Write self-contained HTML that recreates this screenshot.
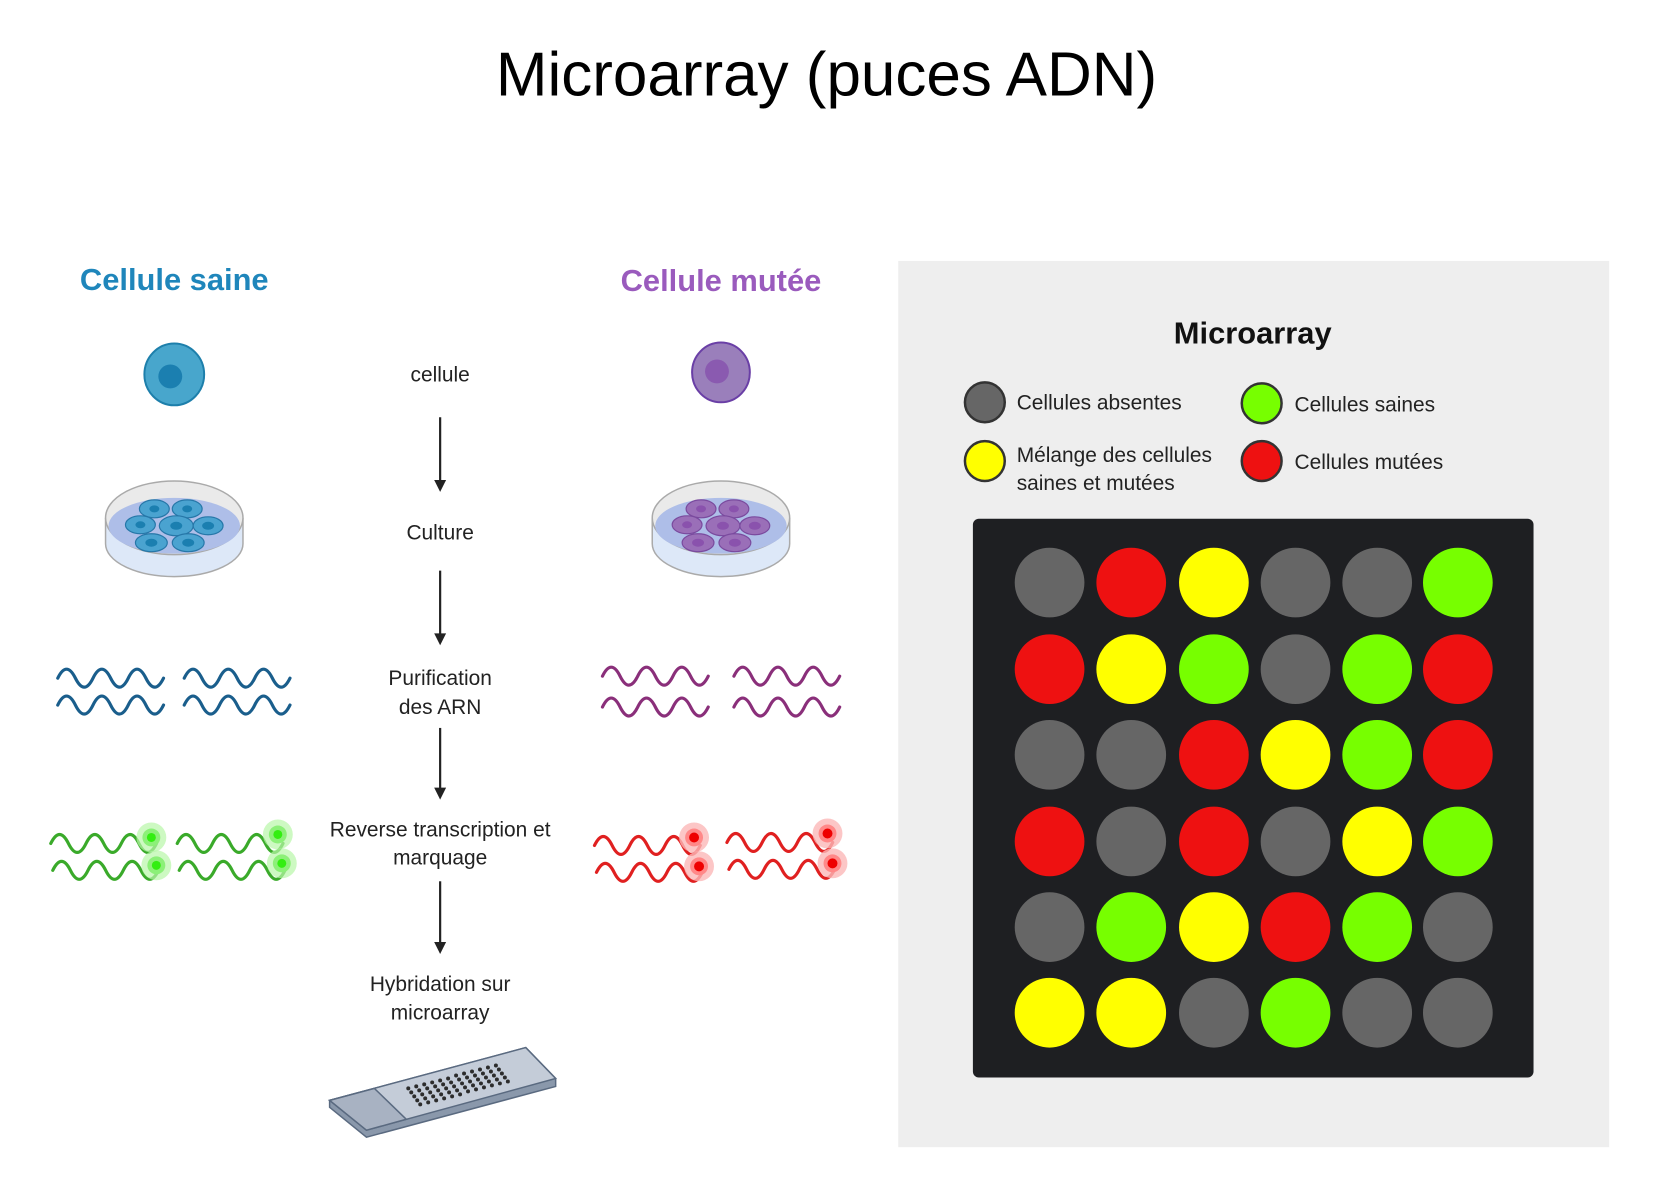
<!DOCTYPE html>
<html><head><meta charset="utf-8"><style>
html,body{margin:0;padding:0;background:#fff}
svg{display:block}
text{font-family:"Liberation Sans",sans-serif}
</style></head><body>
<svg width="1653" height="1181" viewBox="0 0 1653 1181" xmlns="http://www.w3.org/2000/svg">
<defs>
<g id="wave"><path d="M0,0 q8.8,-18 17.7,0 t17.7,0 t17.7,0 t17.7,0 t17.7,0 t17.7,0" fill="none" stroke-width="3.2" stroke-linecap="round"/></g>
</defs>
<g transform="scale(0.9958)">
<text x="830" y="96" font-size="62" text-anchor="middle" textLength="664" lengthAdjust="spacingAndGlyphs" fill="#000">Microarray (puces ADN)</text>

<rect x="902" y="262" width="714" height="890" fill="#eeeeee"/>
<text x="1258" y="345" font-size="31" font-weight="bold" text-anchor="middle" fill="#111">Microarray</text>
<circle cx="989" cy="404" r="20" fill="#666" stroke="#333" stroke-width="2.5"/>
<text x="1021" y="411" font-size="21" fill="#222">Cellules absentes</text>
<circle cx="1267" cy="405" r="20" fill="#77ff00" stroke="#333" stroke-width="2.5"/>
<text x="1300" y="413" font-size="21" fill="#222">Cellules saines</text>
<circle cx="989" cy="463" r="20" fill="#ffff00" stroke="#333" stroke-width="2.5"/>
<text x="1021" y="464" font-size="21" fill="#222">Mélange des cellules</text>
<text x="1021" y="492" font-size="21" fill="#222">saines et mutées</text>
<circle cx="1267" cy="463" r="20" fill="#ee1111" stroke="#333" stroke-width="2.5"/>
<text x="1300" y="471" font-size="21" fill="#222">Cellules mutées</text>
<rect x="977" y="521" width="563" height="561" rx="6" fill="#1e1f22"/>
<g>
<circle cx="1054" cy="585" r="35" fill="#666"/><circle cx="1136" cy="585" r="35" fill="#ee1111"/><circle cx="1219" cy="585" r="35" fill="#ffff00"/><circle cx="1301" cy="585" r="35" fill="#666"/><circle cx="1383" cy="585" r="35" fill="#666"/><circle cx="1464" cy="585" r="35" fill="#77ff00"/>
<circle cx="1054" cy="672" r="35" fill="#ee1111"/><circle cx="1136" cy="672" r="35" fill="#ffff00"/><circle cx="1219" cy="672" r="35" fill="#77ff00"/><circle cx="1301" cy="672" r="35" fill="#666"/><circle cx="1383" cy="672" r="35" fill="#77ff00"/><circle cx="1464" cy="672" r="35" fill="#ee1111"/>
<circle cx="1054" cy="758" r="35" fill="#666"/><circle cx="1136" cy="758" r="35" fill="#666"/><circle cx="1219" cy="758" r="35" fill="#ee1111"/><circle cx="1301" cy="758" r="35" fill="#ffff00"/><circle cx="1383" cy="758" r="35" fill="#77ff00"/><circle cx="1464" cy="758" r="35" fill="#ee1111"/>
<circle cx="1054" cy="845" r="35" fill="#ee1111"/><circle cx="1136" cy="845" r="35" fill="#666"/><circle cx="1219" cy="845" r="35" fill="#ee1111"/><circle cx="1301" cy="845" r="35" fill="#666"/><circle cx="1383" cy="845" r="35" fill="#ffff00"/><circle cx="1464" cy="845" r="35" fill="#77ff00"/>
<circle cx="1054" cy="931" r="35" fill="#666"/><circle cx="1136" cy="931" r="35" fill="#77ff00"/><circle cx="1219" cy="931" r="35" fill="#ffff00"/><circle cx="1301" cy="931" r="35" fill="#ee1111"/><circle cx="1383" cy="931" r="35" fill="#77ff00"/><circle cx="1464" cy="931" r="35" fill="#666"/>
<circle cx="1054" cy="1017" r="35" fill="#ffff00"/><circle cx="1136" cy="1017" r="35" fill="#ffff00"/><circle cx="1219" cy="1017" r="35" fill="#666"/><circle cx="1301" cy="1017" r="35" fill="#77ff00"/><circle cx="1383" cy="1017" r="35" fill="#666"/><circle cx="1464" cy="1017" r="35" fill="#666"/>
</g>

<text x="175" y="291" font-size="31" font-weight="bold" text-anchor="middle" fill="#1f86bb">Cellule saine</text>
<text x="724" y="292" font-size="31" font-weight="bold" text-anchor="middle" fill="#9a5bbd">Cellule mutée</text>

<g transform="translate(175,376)"><ellipse rx="30" ry="31" fill="#48a6cc" stroke="#1d7fab" stroke-width="2"/><ellipse cx="-4" cy="2" rx="12" ry="12" fill="#1b7fb0"/></g>
<g transform="translate(724,374)"><ellipse rx="29" ry="30" fill="#9a7fbb" stroke="#6a3fa6" stroke-width="2"/><ellipse cx="-4" cy="-1" rx="12" ry="12" fill="#8a5ab0"/></g>

<g transform="translate(175,520)">
<path d="M-69,0 L-69,26 A69,33 0 0 0 69,26 L69,0" fill="#dde8f8" stroke="#aaa" stroke-width="1.5"/>
<ellipse rx="69" ry="37" fill="#eaeaea" stroke="#aaa" stroke-width="1.5"/>
<ellipse cy="8" rx="66" ry="28" fill="#aebee8"/>
<g fill="#4aa3d0" stroke="#2677a8" stroke-width="1.2">
<ellipse cx="-20" cy="-9" rx="15" ry="9"/><ellipse cx="13" cy="-9" rx="15" ry="9"/>
<ellipse cx="-34" cy="7" rx="15" ry="9"/><ellipse cx="2" cy="8" rx="17" ry="10"/><ellipse cx="34" cy="8" rx="15" ry="9"/>
<ellipse cx="-23" cy="25" rx="16" ry="9"/><ellipse cx="14" cy="25" rx="16" ry="9"/></g>
<g fill="#1b7fb0"><ellipse cx="-20" cy="-9" rx="5" ry="3.5"/><ellipse cx="13" cy="-9" rx="5" ry="3.5"/><ellipse cx="-34" cy="7" rx="5" ry="3.5"/><ellipse cx="2" cy="8" rx="6" ry="4"/><ellipse cx="34" cy="8" rx="6" ry="4"/><ellipse cx="-23" cy="25" rx="6" ry="4"/><ellipse cx="14" cy="25" rx="6" ry="4"/></g>
</g>
<g transform="translate(724,520)">
<path d="M-69,0 L-69,26 A69,33 0 0 0 69,26 L69,0" fill="#dde8f8" stroke="#aaa" stroke-width="1.5"/>
<ellipse rx="69" ry="37" fill="#eaeaea" stroke="#aaa" stroke-width="1.5"/>
<ellipse cy="8" rx="66" ry="28" fill="#aebee8"/>
<g fill="#9a6fb8" stroke="#7a4a9e" stroke-width="1.2">
<ellipse cx="-20" cy="-9" rx="15" ry="9"/><ellipse cx="13" cy="-9" rx="15" ry="9"/>
<ellipse cx="-34" cy="7" rx="15" ry="9"/><ellipse cx="2" cy="8" rx="17" ry="10"/><ellipse cx="34" cy="8" rx="15" ry="9"/>
<ellipse cx="-23" cy="25" rx="16" ry="9"/><ellipse cx="14" cy="25" rx="16" ry="9"/></g>
<g fill="#8a52ad"><ellipse cx="-20" cy="-9" rx="5" ry="3.5"/><ellipse cx="13" cy="-9" rx="5" ry="3.5"/><ellipse cx="-34" cy="7" rx="5" ry="3.5"/><ellipse cx="2" cy="8" rx="6" ry="4"/><ellipse cx="34" cy="8" rx="6" ry="4"/><ellipse cx="-23" cy="25" rx="6" ry="4"/><ellipse cx="14" cy="25" rx="6" ry="4"/></g>
</g>

<g font-size="21" text-anchor="middle" fill="#222">
<text x="442" y="383">cellule</text>
<text x="442" y="542">Culture</text>
<text x="442" y="688">Purification</text>
<text x="442" y="717">des ARN</text>
<text x="442" y="840">Reverse transcription et</text>
<text x="442" y="868">marquage</text>
<text x="442" y="995">Hybridation sur</text>
<text x="442" y="1024">microarray</text>
</g>
<g stroke="#222" stroke-width="2.2">
<line x1="442" y1="419" x2="442" y2="484"/><line x1="442" y1="573" x2="442" y2="638"/><line x1="442" y1="731" x2="442" y2="793"/><line x1="442" y1="885" x2="442" y2="948"/>
</g>
<g fill="#222">
<path d="M436,482 L448,482 L442,494 Z"/><path d="M436,636 L448,636 L442,648 Z"/><path d="M436,791 L448,791 L442,803 Z"/><path d="M436,946 L448,946 L442,958 Z"/>
</g>

<g stroke="#1a5e8c">
<use href="#wave" x="58" y="681"/><use href="#wave" x="185" y="681"/>
<use href="#wave" x="58" y="708"/><use href="#wave" x="185" y="708"/>
</g>
<g stroke="#8a2f7a">
<use href="#wave" x="605" y="679"/><use href="#wave" x="737" y="679"/>
<use href="#wave" x="605" y="710"/><use href="#wave" x="737" y="710"/>
</g>
<g stroke="#3aaa2a">
<use href="#wave" x="51" y="847"/><use href="#wave" x="178" y="847"/>
<use href="#wave" x="53" y="874"/><use href="#wave" x="180" y="874"/>
</g>
<g>
<circle cx="152" cy="841" r="15" fill="#b8f7a8" opacity=".7"/><circle cx="152" cy="841" r="9" fill="#8cf078"/><circle cx="152" cy="841" r="4.5" fill="#33ee11"/>
<circle cx="157" cy="869" r="15" fill="#b8f7a8" opacity=".7"/><circle cx="157" cy="869" r="9" fill="#8cf078"/><circle cx="157" cy="869" r="4.5" fill="#33ee11"/>
<circle cx="279" cy="838" r="15" fill="#b8f7a8" opacity=".7"/><circle cx="279" cy="838" r="9" fill="#8cf078"/><circle cx="279" cy="838" r="4.5" fill="#33ee11"/>
<circle cx="283" cy="867" r="15" fill="#b8f7a8" opacity=".7"/><circle cx="283" cy="867" r="9" fill="#8cf078"/><circle cx="283" cy="867" r="4.5" fill="#33ee11"/>
</g>
<g stroke="#e02020">
<use href="#wave" x="597" y="849"/><use href="#wave" x="730" y="846"/>
<use href="#wave" x="599" y="876"/><use href="#wave" x="732" y="873"/>
</g>
<g>
<circle cx="697" cy="841" r="15" fill="#fbb8b8" opacity=".8"/><circle cx="697" cy="841" r="9" fill="#f88"/><circle cx="697" cy="841" r="5" fill="#ee0000"/>
<circle cx="702" cy="870" r="15" fill="#fbb8b8" opacity=".8"/><circle cx="702" cy="870" r="9" fill="#f88"/><circle cx="702" cy="870" r="5" fill="#ee0000"/>
<circle cx="831" cy="837" r="15" fill="#fbb8b8" opacity=".8"/><circle cx="831" cy="837" r="9" fill="#f88"/><circle cx="831" cy="837" r="5" fill="#ee0000"/>
<circle cx="836" cy="867" r="15" fill="#fbb8b8" opacity=".8"/><circle cx="836" cy="867" r="9" fill="#f88"/><circle cx="836" cy="867" r="5" fill="#ee0000"/>
</g>

<g stroke="#5a6a80" stroke-width="1.5">
<path d="M331,1105 L528,1052 L558,1083 L558,1091 L368,1142 L331,1112 Z" fill="#8a98ab"/>
<path d="M331,1105 L528,1052 L558,1083 L368,1135 Z" fill="#c4ccd8"/>
<path d="M331,1105 L376,1093 L408,1124 L368,1135 Z" fill="#a8b2c2"/>
</g>
<g fill="#2c2c2c">
<g id="dr"><circle cx="410" cy="1093" r="2"/><circle cx="418" cy="1091" r="2"/><circle cx="426" cy="1089" r="2"/><circle cx="434" cy="1087" r="2"/><circle cx="442" cy="1085" r="2"/><circle cx="450" cy="1083" r="2"/><circle cx="458" cy="1080" r="2"/><circle cx="466" cy="1078" r="2"/><circle cx="474" cy="1076" r="2"/><circle cx="482" cy="1074" r="2"/><circle cx="490" cy="1072" r="2"/><circle cx="498" cy="1070" r="2"/></g>
<use href="#dr" x="3" y="4"/><use href="#dr" x="6" y="8"/><use href="#dr" x="9" y="12"/><use href="#dr" x="12" y="16"/>
</g>
</g>
</svg>
</body></html>
